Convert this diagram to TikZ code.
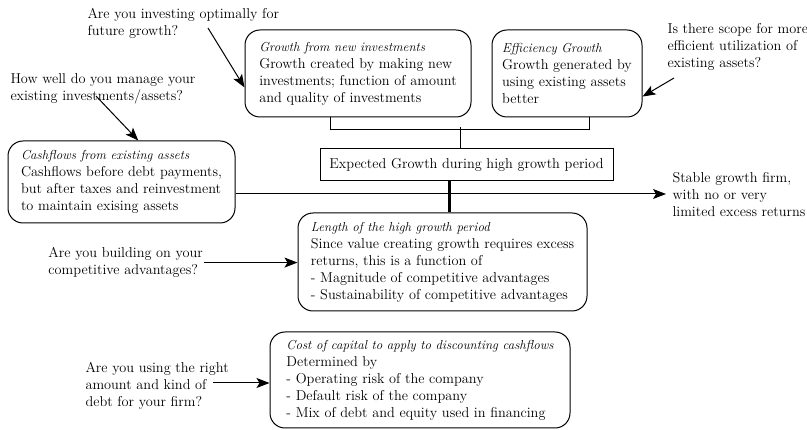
\documentclass[tikz,border=0pt]{standalone}
\usetikzlibrary{arrows.meta}
\begin{document}
\begin{tikzpicture}[x=1pt, y=-1pt, line width=1pt,
    every node/.style={font=\fontsize{14.3}{17}\selectfont},
    box/.style={draw, rounded corners=15pt, align=left, inner sep=2pt},
    title/.style={font=\fontsize{13}{17}\selectfont\itshape},
    ask/.style={align=left, inner sep=0pt, anchor=north west},
    arr/.style={-{Stealth[length=13pt, width=10pt, inset=3pt]}}]
    \useasboundingbox (0,0) rectangle (807,430);

    % growth boxes
    \node[box, minimum width=226pt, minimum height=87pt] (newinv) at (358,73.5) {{\fontsize{13}{17}\selectfont\itshape Growth from new investments}\\Growth created by making new\\investments; function of amount\\and quality of investments};
    \node[box, minimum width=150pt, minimum height=87pt] (effic) at (567,73.5) {{\fontsize{13}{17}\selectfont\itshape Efficiency Growth}\\Growth generated by\\using existing assets\\better};
    \node[draw, minimum width=293pt, minimum height=32pt] (expected) at (466.5,165) {Expected Growth during high growth period};
    \node[box, minimum width=227pt, minimum height=82pt] (cash) at (121.5,182) {{\fontsize{13}{17}\selectfont\itshape Cashflows from existing assets}\\Cashflows before debt payments,\\but after taxes and reinvestment\\to maintain exising assets};
    \node[box, minimum width=289pt, minimum height=98pt] (length) at (442.5,262) {{\fontsize{13}{17}\selectfont\itshape Length of the high growth period}\\Since value creating growth requires excess\\returns, this is a function of\\- Magnitude of competitive advantages\\- Sustainability of competitive advantages};
    \node[box, minimum width=300pt, minimum height=96pt] (cost) at (420,380) {{\fontsize{13}{17}\selectfont\itshape Cost of capital to apply to discounting cashflows}\\Determined by\\- Operating risk of the company\\- Default risk of the company\\- Mix of debt and equity used in financing};
    \node[align=left, anchor=west, inner xsep=6pt] (stable) at (666,195) {Stable growth firm,\\with no or very\\limited excess returns};

    % questions
    \node[ask] (qinvest) at (87,8) {Are you investing optimally for\\future growth?};
    \node[ask] (qmanage) at (10,73) {How well do you manage your\\existing investments/assets?};
    \node[ask] (qscope) at (667,23) {Is there scope for more\\efficient utilization of\\existing assets?};
    \node[ask] (qbuild) at (48,247) {Are you building on your\\competitive advantages?};
    \node[ask] (qdebt) at (85,362) {Are you using the right\\amount and kind of\\debt for your firm?};
    \coordinate (investtail) at (208,28);
    \coordinate (managetail) at (96,96);
    \coordinate (scopetail) at (674,78);
    \coordinate (debttail) at (213,383);

    % connectors
    \draw ([xshift=-28pt]newinv.south) -- ++(0,12) -| ([xshift=22pt]effic.south);
    \draw ([xshift=-6.5pt]expected.north) -- ++(0,-21);
    \draw[line width=3pt] ([xshift=-17pt]expected.south) -- ([xshift=-17pt]expected.south |- length.north);
    \draw[arr] ([yshift=-12pt]cash.east) -- ([yshift=-12pt]cash.east -| stable.west);
    \draw[arr] (investtail) -- (newinv.187);
    \draw[arr] (managetail) -- (cash.68);
    \draw[arr] (scopetail) -- (effic.343);
    \draw[arr] ([xshift=1pt]qbuild.east) -- (qbuild.east -| length.west);
    \draw[arr] (debttail) -- (debttail -| cost.west);
\end{tikzpicture}
\end{document}
